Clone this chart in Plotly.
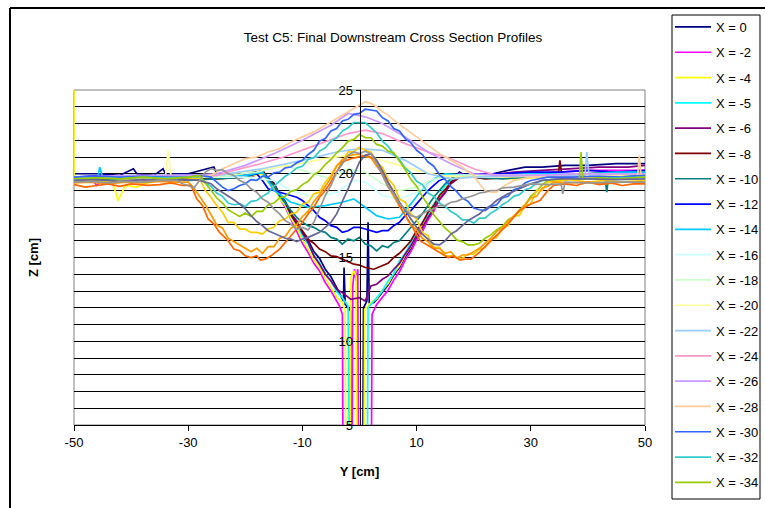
import plotly.graph_objects as go

# Cross-section profiles: (Y position across the channel [cm], bed elevation Z [cm])
pts_x0 = [(-50, 20.0), (-46, 20.0), (-42, 19.9), (-39.6, 20.3), (-39, 20.0), (-36, 19.9), (-34.4, 20.3), (-34, 20.0), (-30, 20.0),
          (-25.5, 20.4), (-25, 20.0), (-21, 19.9), (-18.5, 20.1), (-17, 20.2), (-16, 19.75), (-15, 19.45), (-14, 18.8), (-13, 18.35),
          (-12, 17.6), (-11, 17.15), (-10, 16.5), (-9, 16.05), (-8, 15.35), (-7, 14.95), (-6, 14.3), (-5, 13.85), (-4, 13.2),
          (-3.5, 12.9), (-2.8, 12.4), (-2.7, 14.4), (-2.5, 12.2), (-1.5, 11.8), (-1.3, 4.0), (0.6, 4.0), (0.7, 12.0), (1.3, 12.4),
          (1.5, 17.1), (1.7, 12.3), (2.5, 12.3), (3, 12.5), (4, 12.95), (5, 13.35), (6, 13.95), (7, 14.4), (8, 15.05), (9, 15.5),
          (10, 16.15), (11, 16.6), (12, 17.35), (13, 17.8), (14, 18.45), (15, 18.9), (16, 19.55), (17, 19.9), (17.5, 20.1), (19, 19.8),
          (21, 19.9), (23.4, 20.0), (26, 20.2), (29, 20.4), (32, 20.4), (36, 20.5), (40, 20.5), (45, 20.6), (50, 20.6)]

pts_x2 = [(-50, 19.7), (-47, 19.7), (-46, 19.3), (-45, 19.7), (-41, 19.8), (-36, 19.7), (-31, 19.8), (-27, 19.7), (-23, 19.8), (-19, 19.8),
          (-17, 20.1), (-16, 19.6), (-15, 19.3), (-14, 18.55), (-13, 18.0), (-12, 17.25), (-11, 16.6), (-10, 15.85), (-9, 15.3),
          (-8, 14.65), (-7, 14.2), (-6, 13.5), (-5, 13.0), (-4, 12.4), (-3.5, 12.1), (-3.0, 11.6), (-2.9, 4.0), (-1.3, 4.0), (-1.2, 13.2),
          (-0.9, 14.3), (-0.6, 13.6), (-0.3, 14.3), (-0.2, 4.0), (2.1, 4.0), (2.2, 11.6), (3, 12.2), (4, 12.65), (5, 13.05), (6, 13.65),
          (7, 14.15), (8, 14.85), (9, 15.35), (10, 16.05), (11, 16.55), (12, 17.25), (13, 17.75), (14, 18.45), (15, 18.85), (16, 19.55),
          (17.5, 20.0), (20, 19.8), (25, 19.9), (30, 20.0), (35, 20.1), (40, 20.2), (45, 20.2), (50, 20.2)]

pts_x4 = [(-50, 26.0), (-50, 19.8), (-48, 19.7), (-45, 19.7), (-43.5, 19.8), (-42.3, 18.4), (-41, 19.3), (-39, 19.2), (-36, 19.6),
          (-34, 19.7), (-30, 19.8), (-25, 19.8), (-20, 19.8), (-17, 20.0), (-16, 19.5), (-15, 19.2), (-14, 18.5), (-13, 18.1),
          (-12, 17.35), (-11, 16.8), (-10, 16.05), (-9, 15.5), (-8, 14.85), (-7, 14.4), (-6, 13.75), (-5, 13.2), (-4, 12.65), (-3, 12.3),
          (-2.5, 11.8), (-2.4, 4.0), (-1.6, 4.0), (-1.5, 13.8), (-1.0, 14.2), (-0.6, 13.9), (-0.5, 4.0), (0.8, 4.0), (0.9, 11.9),
          (2, 12.3), (3, 12.55), (4, 13.05), (5, 13.45), (6, 14.05), (7, 14.5), (8, 15.15), (9, 15.65), (10, 16.35), (11, 16.8),
          (12, 17.45), (13, 17.95), (14, 18.65), (15, 19.05), (16, 19.65), (18, 19.9), (22, 19.8), (27, 19.7), (32, 19.8), (37, 19.9),
          (42, 19.8), (47, 19.8), (50, 19.9)]

pts_x5 = [(-50, 19.8), (-45, 19.8), (-40, 19.9), (-35, 19.8), (-30, 19.8), (-25, 19.9), (-20, 19.8), (-17, 20.1), (-16, 19.6),
          (-15, 19.3), (-14, 18.65), (-13, 18.2), (-12, 17.5), (-11, 17.0), (-10, 16.3), (-9, 15.8), (-8, 15.15), (-7, 14.7),
          (-6, 14.05), (-5, 13.6), (-4, 12.95), (-3, 12.6), (-2, 12.1), (-1.8, 4.0), (1.4, 4.0), (1.5, 12.0), (3, 12.6), (4, 13.0),
          (5, 13.6), (6, 14.05), (7, 14.8), (8, 15.25), (9, 15.9), (10, 16.4), (11, 17.1), (12, 17.55), (13, 18.2), (14, 18.7),
          (15, 19.3), (17, 19.9), (20, 19.8), (25, 19.9), (30, 20.0), (35, 19.9), (40, 20.0), (45, 20.1), (50, 20.0)]

pts_x6 = [(-50, 19.7), (-45, 19.8), (-40, 19.7), (-35, 19.8), (-30, 19.9), (-25, 19.8), (-20, 19.9), (-17, 20.1), (-16, 19.6),
          (-15, 19.3), (-14, 18.7), (-13, 18.3), (-12, 17.6), (-11, 17.2), (-10, 16.45), (-9, 15.9), (-8, 15.1), (-7, 14.6),
          (-6, 14.0), (-5, 13.6), (-4, 13.1), (-3, 12.9), (-1.5, 12.5), (0, 12.6), (1, 12.4), (2, 13.3), (3, 13.4), (4, 13.7),
          (5, 13.9), (6, 14.3), (7, 14.65), (8, 15.2), (9, 15.7), (10, 16.3), (11, 16.8), (12, 17.4), (13, 17.9), (14, 18.5),
          (15, 18.9), (16, 19.4), (18, 19.9), (22, 19.9), (27, 20.1), (32, 20.2), (37, 20.3), (42, 20.4), (47, 20.4), (50, 20.5)]

pts_x8 = [(-50, 19.6), (-45, 19.7), (-40, 19.7), (-35, 19.6), (-30, 19.7), (-25, 19.7), (-20, 19.8), (-17, 20.2), (-16, 19.7),
          (-15, 19.4), (-14, 18.75), (-13, 18.3), (-12, 17.55), (-11, 17.0), (-10, 16.6), (-9, 16.1), (-8, 15.85), (-7, 15.5),
          (-6, 15.35), (-5, 15.1), (-4, 15.05), (-3, 14.9), (-2, 14.75), (-1, 14.6), (0, 14.55), (1, 14.4), (2.5, 14.3), (4, 14.5),
          (5, 14.65), (6, 15.0), (7, 15.25), (8, 15.6), (9, 16.0), (10, 16.6), (11, 17.05), (12, 17.7), (13, 18.1), (14, 18.7),
          (15, 19.05), (16, 19.5), (18, 19.9), (22, 19.7), (27, 19.8), (32, 19.9), (34.8, 19.9), (35.1, 20.8), (35.4, 20.0),
          (40, 20.0), (45, 20.1), (50, 20.1)]

pts_x10 = [(-50, 19.7), (-45, 19.6), (-40, 19.7), (-35, 19.7), (-30, 19.6), (-25, 19.7), (-20, 19.8), (-17, 20.1), (-16, 19.7), (-15, 19.3),
           (-14, 18.8), (-13, 18.3), (-12, 17.8), (-11, 17.4), (-10, 17.1), (-9, 16.9), (-8, 16.8), (-7, 16.6), (-6, 16.5), (-5, 16.2),
           (-4, 16.1), (-3, 15.8), (-2, 16.1), (-1, 16.0), (0, 16.2), (1, 15.8), (2, 15.7), (3, 15.4), (4, 15.7), (5, 15.6), (6, 15.9),
           (7, 16.0), (8, 16.4), (9, 16.8), (10, 17.2), (11, 17.6), (12, 18.1), (13, 18.6), (14, 19.0), (15, 19.4), (16, 19.7), (17, 19.9),
           (20, 19.8), (25, 19.7), (30, 19.8), (35, 19.8), (40, 19.9), (43, 19.8), (43.3, 18.9), (43.6, 19.8), (47, 19.9), (50, 19.9)]

pts_x12 = [(-50, 19.8), (-45, 19.9), (-40, 19.8), (-35, 19.8), (-30, 19.9), (-25, 19.8), (-20, 19.9), (-18, 20.0), (-17, 19.6), (-16, 19.1),
           (-15, 19.0), (-14, 18.9), (-13, 18.8), (-12, 18.7), (-11, 18.6), (-10, 18.4), (-9, 18.1), (-8, 17.8), (-7, 17.4), (-6, 17.2),
           (-5, 16.9), (-4, 16.8), (-3, 16.5), (-2, 16.6), (-1, 16.8), (0, 16.8), (1, 16.7), (2, 16.6), (3, 16.5), (4, 16.6), (5, 16.6),
           (6, 16.9), (7, 17.1), (8, 17.5), (9, 17.8), (10, 18.2), (11, 18.6), (12, 19.0), (13, 19.3), (14, 19.6), (16, 19.9), (20, 20.0),
           (25, 20.0), (30, 20.1), (35, 20.1), (40, 20.2), (45, 20.1), (50, 20.2)]

pts_x14 = [(-50, 19.8), (-45.8, 19.8), (-45.5, 20.4), (-45, 19.8), (-40, 19.8), (-35, 19.9), (-30, 19.8), (-25, 19.8), (-20, 19.9),
           (-17, 20.1), (-15, 19.0), (-12, 18.3), (-9, 18.0), (-6, 18.1), (-3, 18.3), (-1, 18.5), (1, 18.0), (3, 17.5), (5, 17.3),
           (7, 17.4), (9, 18.2), (11, 19.1), (13, 19.7), (15, 20.0), (20, 19.9), (25, 19.9), (30, 20.0), (35, 20.0), (40, 20.0),
           (45, 20.1), (50, 20.1)]

pts_x16 = [(-50, 19.8), (-40, 19.8), (-30, 19.8), (-20, 19.8), (-15, 19.6), (-12, 19.0), (-8, 18.6), (-4, 18.9), (-1, 19.6), (1, 19.5),
           (4, 18.7), (7, 18.5), (10, 18.9), (13, 19.6), (16, 19.9), (20, 19.9), (30, 19.9), (40, 20.0), (50, 20.0)]

pts_x18 = [(-50, 19.8), (-40, 19.8), (-30, 19.8), (-25, 19.8), (-18, 20.1), (-13, 20.5), (-9, 20.1), (-5, 19.7), (-2, 20.3), (1, 20.1),
           (4, 19.4), (7, 19.0), (10, 19.2), (13, 19.7), (17, 19.9), (25, 19.9), (35, 19.9), (45, 20.0), (50, 20.0)]

pts_x20 = [(-50, 19.8), (-40, 19.8), (-34, 19.8), (-33.5, 21.4), (-33, 19.8), (-25, 19.9), (-18, 20.2), (-12, 20.5), (-6, 20.9),
           (-2, 21.1), (2, 21.0), (6, 20.6), (10, 20.2), (14, 19.9), (18, 19.8), (25, 19.8), (35, 19.9), (45, 19.9), (50, 20.0)]

pts_x22 = [(-50, 19.8), (-40, 19.8), (-30, 19.9), (-25, 19.9), (-17, 20.3), (-10, 20.8), (-4, 21.3), (0, 21.5), (4, 21.4), (8, 20.8),
           (12, 20.0), (16, 19.7), (20, 19.8), (30, 19.9), (39.5, 19.9), (39.8, 21.3), (40.2, 19.9), (45, 20.0), (50, 20.0)]

pts_x24 = [(-50, 19.8), (-40, 19.8), (-30, 19.8), (-25, 19.9), (-22, 20.2), (-17.4, 20.6), (-13.3, 21.0), (-6.9, 21.8), (-2, 22.4),
           (1, 22.6), (4, 22.4), (8, 21.8), (12, 21.3), (16, 20.9), (20, 20.3), (24, 19.9), (30, 19.9), (40, 20.0), (50, 20.0)]

pts_x26 = [(-50, 19.8), (-40, 19.9), (-30, 19.9), (-25, 20.0), (-20, 20.5), (-15, 21.2), (-10, 22.0), (-5, 22.9), (-2, 23.6), (1, 23.4),
           (4, 23.0), (8, 22.2), (12, 21.3), (16, 20.6), (20, 20.0), (24, 19.9), (30, 19.9), (40, 20.0), (50, 20.0)]

pts_x28 = [(-50, 19.7), (-45, 19.75), (-40, 19.7), (-35, 19.75), (-30, 19.8), (-28, 19.85), (-26, 19.9), (-24, 20.3), (-22, 20.6), (-20, 20.9),
           (-18, 21.0), (-16, 21.3), (-14, 21.5), (-12, 21.9), (-10, 22.2), (-8, 22.5), (-6, 22.9), (-4, 23.3), (-2, 23.7), (-1, 23.9),
           (0, 24.1), (1, 24.3), (2, 24.2), (3, 24.0), (4, 23.7), (5, 23.5), (6, 23.2), (8, 22.7), (10, 22.2), (12, 21.7), (14, 21.2),
           (16, 20.8), (18, 20.4), (19, 20.1), (20, 19.9), (21, 19.4), (22, 19.0), (23, 18.9), (24, 18.9), (25, 19.2), (26, 19.4),
           (27, 19.6), (30, 19.8), (35, 19.8), (40, 19.8), (45, 19.85), (48.7, 19.8), (49, 21.1), (49.3, 19.9), (50, 19.9)]

pts_x30 = [(-50, 19.8), (-46, 19.85), (-42, 19.8), (-38, 19.85), (-34, 19.8), (-30, 19.8), (-28, 19.9), (-26, 19.8), (-25, 19.5), (-24, 19.2),
           (-23, 19.0), (-22, 19.1), (-21, 19.3), (-20, 19.4), (-19, 19.65), (-18, 19.6), (-17, 19.85), (-16, 19.8), (-15, 20.05), (-14, 20.1),
           (-13, 20.35), (-12, 20.4), (-11, 20.65), (-10, 20.8), (-9, 21.15), (-8, 21.4), (-7, 21.95), (-6, 22.1), (-5, 22.55), (-4, 22.7),
           (-3, 23.15), (-2, 23.25), (-1, 23.55), (0, 23.6), (1, 23.85), (2, 23.8), (3, 23.75), (4, 23.35), (5, 23.15), (6, 22.7),
           (7, 22.55), (8, 22.1), (9, 21.85), (10, 21.4), (11, 21.15), (12, 20.7), (13, 20.45), (14, 19.95), (15, 19.65), (16, 19.25),
           (17, 18.95), (18, 18.55), (19, 18.35), (20, 17.95), (21, 17.85), (22, 17.8), (23, 18.05), (24, 18.15), (25, 18.55), (26, 18.65),
           (27, 19.05), (28, 19.15), (29, 19.45), (30, 19.6), (33, 19.8), (37, 19.8), (42, 19.85), (46, 19.8), (50, 19.9)]

pts_x32 = [(-50, 19.7), (-46, 19.75), (-42, 19.7), (-38, 19.8), (-34, 19.75), (-30, 19.8), (-28, 19.8), (-27, 19.45), (-26, 19.25), (-25, 18.85),
           (-24, 18.65), (-23, 18.25), (-22, 18.15), (-21, 18.2), (-20, 18.05), (-19, 18.35), (-18, 18.4), (-17, 18.65), (-16, 18.85),
           (-15, 19.25), (-14, 19.55), (-13, 19.85), (-12, 20.05), (-11, 20.35), (-10, 20.45), (-9, 20.85), (-8, 20.95), (-7, 21.35),
           (-6, 21.55), (-5, 21.95), (-4, 22.15), (-3, 22.55), (-2, 22.75), (-1, 23.05), (0, 23.05), (1, 23.05), (2, 22.75), (3, 22.45),
           (4, 21.95), (5, 21.65), (6, 21.15), (7, 20.85), (8, 20.35), (9, 20.05), (10, 19.55), (11, 19.35), (12, 18.85), (13, 18.65),
           (14, 18.25), (15, 18.05), (16, 17.75), (17, 17.55), (18, 17.25), (19, 17.25), (20, 17.05), (21, 17.35), (22, 17.35), (23, 17.65),
           (24, 17.85), (25, 18.15), (26, 18.35), (27, 18.65), (28, 18.75), (29, 19.05), (30, 19.15), (31, 19.45), (32, 19.6), (35, 19.7),
           (40, 19.7), (45, 19.75), (50, 19.8)]

pts_x34 = [(-50, 19.7), (-46, 19.75), (-42, 19.7), (-38, 19.8), (-34, 19.7), (-30, 19.8), (-28, 19.9), (-27, 19.45), (-26, 19.05), (-25, 18.55),
           (-24, 18.25), (-23, 17.85), (-22, 17.65), (-21, 17.45), (-20, 17.65), (-19, 17.45), (-18, 17.75), (-17, 17.75), (-16, 18.15),
           (-15, 18.25), (-14, 18.55), (-13, 18.65), (-12, 18.95), (-11, 19.05), (-10, 19.35), (-9, 19.55), (-8, 19.95), (-7, 20.15),
           (-6, 20.55), (-5, 20.85), (-4, 21.25), (-3, 21.55), (-2, 21.95), (-1, 22.05), (0, 22.35), (1, 22.15), (2, 22.15), (3, 21.75),
           (4, 21.65), (5, 21.35), (6, 21.25), (7, 20.75), (8, 20.25), (9, 19.65), (10, 19.25), (11, 18.65), (12, 18.15), (13, 17.55),
           (14, 17.15), (15, 16.75), (16, 16.45), (17, 16.05), (18, 15.95), (19, 15.75), (20, 15.75), (21, 15.85), (22, 16.15), (23, 16.35),
           (24, 16.65), (25, 16.85), (26, 17.25), (27, 17.45), (28, 17.85), (29, 18.15), (30, 18.65), (31, 18.95), (32, 19.35), (33, 19.6),
           (36, 19.7), (38.5, 19.7), (38.8, 21.3), (39.1, 19.7), (42, 19.75), (45, 19.7), (50, 19.8)]

pts_x36 = [(-50, 19.55), (-47, 19.62), (-44, 19.5), (-41, 19.6), (-38, 19.52), (-35, 19.65), (-32, 19.58), (-30, 19.7), (-28, 19.72), (-27, 19.0),
           (-26, 18.6), (-25, 18.1), (-24, 17.7), (-23, 17.1), (-22, 17.1), (-21, 16.7), (-20, 16.7), (-19, 16.5), (-18, 16.5), (-17, 16.4),
           (-16, 16.7), (-15, 16.8), (-14, 17.2), (-13, 17.3), (-12, 17.6), (-11, 17.7), (-10, 18.2), (-9, 18.3), (-8, 18.8), (-7, 18.9),
           (-6, 19.5), (-5, 19.9), (-4, 20.5), (-3, 20.7), (-2, 21.3), (-1, 21.3), (0, 21.6), (1, 21.4), (2, 21.3), (3, 20.7), (4, 20.4),
           (5, 19.7), (6, 19.3), (7, 18.5), (8, 18.3), (9, 17.6), (10, 17.3), (11, 16.5), (12, 16.3), (13, 15.6), (14, 15.6), (15, 15.1),
           (16, 15.1), (17, 15.0), (18, 14.95), (19, 15.2), (20, 15.2), (21, 15.5), (22, 15.6), (23, 16.1), (24, 16.2), (25, 16.7),
           (26, 16.9), (27, 17.5), (28, 17.5), (29, 18.1), (30, 18.2), (31, 19.0), (32, 19.0), (33, 19.5), (34, 19.55), (37, 19.65),
           (40, 19.5), (43, 19.6), (46, 19.5), (50, 19.6)]

pts_x38 = [(-50, 19.45), (-47, 19.5), (-44, 19.4), (-41, 19.5), (-38, 19.45), (-35, 19.55), (-32, 19.5), (-30, 19.5), (-29, 19.15), (-28, 18.65),
           (-27, 18.15), (-26, 17.55), (-25, 16.95), (-24, 16.75), (-23, 16.15), (-22, 15.95), (-21, 15.75), (-20, 15.55), (-19, 15.35),
           (-18, 15.55), (-17, 15.25), (-16, 15.65), (-15, 15.65), (-14, 16.15), (-13, 16.25), (-12, 16.75), (-11, 16.95), (-10, 17.45),
           (-9, 17.75), (-8, 18.35), (-7, 18.75), (-6, 19.25), (-5, 19.75), (-4, 20.45), (-3, 20.85), (-2, 21.05), (-1, 21.15), (0, 21.15),
           (1, 21.05), (2, 20.95), (3, 20.45), (4, 20.05), (5, 19.25), (6, 18.65), (7, 18.05), (8, 17.55), (9, 16.95), (10, 16.65),
           (11, 16.15), (12, 15.95), (13, 15.55), (14, 15.55), (15, 15.25), (16, 15.35), (17, 14.95), (18, 15.15), (19, 15.15), (20, 15.35),
           (21, 15.55), (22, 15.85), (23, 16.15), (24, 16.55), (25, 16.75), (26, 17.15), (27, 17.45), (28, 17.75), (29, 18.15), (30, 18.55),
           (31, 18.65), (32, 19.15), (33, 19.25), (34, 19.5), (37, 19.45), (40, 19.5), (43, 19.4), (46, 19.5), (50, 19.5)]

pts_x40 = [(-50, 19.35), (-48, 19.2), (-46, 19.3), (-44, 19.4), (-42, 19.25), (-40, 19.4), (-37, 19.3), (-35, 19.35), (-33, 19.45), (-31, 19.3),
           (-29.5, 19.3), (-28.5, 18.5), (-27.5, 18.1), (-26.5, 17.3), (-25.5, 17.0), (-24.5, 16.5), (-23, 16.0), (-22, 15.5), (-21, 15.4),
           (-20, 15.1), (-19, 15.0), (-18, 15.1), (-17.4, 14.85), (-16.5, 14.9), (-15.5, 15.1), (-14, 15.5), (-13, 15.9), (-11.5, 16.5),
           (-10, 17.1), (-9, 17.6), (-8, 18.0), (-7, 18.6), (-6, 19.0), (-5.2, 19.4), (-4, 20.1), (-3, 20.7), (-1.5, 20.9), (0, 21.0),
           (1.2, 21.1), (2.5, 20.9), (3.6, 20.3), (4.8, 19.6), (6, 18.9), (7, 18.1), (8, 17.5), (9.3, 16.8), (10.6, 16.0), (12, 15.7),
           (13, 15.5), (14, 15.3), (15.5, 15.0), (16.5, 15.1), (17.6, 14.85), (18.5, 14.9), (19.5, 14.9), (21, 15.3), (22.5, 15.8),
           (24.6, 16.5), (26, 17.0), (28, 17.8), (30, 18.2), (31.6, 18.4), (33, 19.0), (34, 19.3), (36, 19.4), (38, 19.3), (40, 19.5),
           (42, 19.35), (44, 19.45), (46, 19.3), (48, 19.4), (50, 19.4)]

pts_x42 = [(-50, 19.6), (-46, 19.65), (-42, 19.55), (-38, 19.65), (-34, 19.6), (-30, 19.65), (-28, 19.6), (-27, 19.5), (-26, 19.4), (-25, 19.1),
           (-24, 18.9), (-23, 18.7), (-22, 18.45), (-21, 18.2), (-20, 17.9), (-19, 17.5), (-18, 17.15), (-17, 16.9), (-16, 16.6),
           (-15, 16.45), (-14, 16.3), (-13, 16.15), (-12, 16.1), (-11, 15.95), (-10, 16.1), (-9, 16.2), (-8, 16.35), (-7, 16.5), (-6, 16.8),
           (-5, 17.1), (-4, 17.6), (-3, 18.3), (-2, 19.1), (-1, 19.9), (0, 20.7), (1, 21.1), (2, 21.2), (3, 20.8), (4, 20.2), (5, 19.5),
           (6, 18.9), (7, 18.3), (8, 17.8), (9, 17.3), (10, 16.8), (11, 16.4), (12, 16.1), (13, 15.8), (14, 15.75), (15, 16.0), (16, 16.4),
           (17, 16.6), (18, 16.9), (19, 17.2), (20, 17.4), (21, 17.6), (22, 17.9), (23, 18.1), (24, 18.4), (25, 18.6), (26, 18.8),
           (28, 19.1), (30, 19.4), (32, 19.6), (35, 19.7), (40, 19.7), (45, 19.65), (50, 19.7)]

pts_x44 = [(-50, 19.5), (-47, 19.55), (-44, 19.45), (-41, 19.55), (-38, 19.5), (-35, 19.6), (-32, 19.6), (-31, 19.4), (-30, 19.3), (-29, 19.15),
           (-28, 19.6), (-27, 20.1), (-26, 20.3), (-25, 20.2), (-24, 20.25), (-23, 20.0), (-22, 19.9), (-21, 19.6), (-20, 19.45), (-19, 19.1),
           (-18, 18.9), (-17, 18.5), (-16, 18.3), (-15, 17.9), (-14, 17.6), (-13, 17.2), (-12, 17.0), (-11, 16.7), (-10, 16.8), (-9, 16.65),
           (-8, 17.1), (-7, 17.9), (-6, 18.7), (-5, 19.3), (-4, 20.1), (-3, 20.6), (-2, 21.1), (-1, 21.3), (0, 21.2), (1, 21.35), (2, 21.2),
           (3, 20.6), (4, 19.9), (5, 19.2), (6, 18.8), (7, 18.2), (8, 17.9), (9, 17.5), (10, 17.4), (11, 17.6), (12, 17.8), (13, 17.9),
           (14, 18.1), (15, 18.1), (16, 18.3), (17, 18.35), (18, 18.5), (19, 18.6), (20, 18.7), (21, 18.85), (22, 18.9), (23, 19.0),
           (24, 19.0), (25, 19.15), (27, 19.2), (30, 19.4), (33, 19.35), (35.3, 19.4), (35.6, 18.8), (36, 19.5), (40, 19.45), (45, 19.5),
           (50, 19.5)]

x_labels = ["X = 0", "X = -2", "X = -4", "X = -5", "X = -6", "X = -8", "X = -10", "X = -12",
            "X = -14", "X = -16", "X = -18", "X = -20", "X = -22", "X = -24", "X = -26",
            "X = -28", "X = -30", "X = -32", "X = -34", "X = -36", "X = -38", "X = -40",
            "X = -42", "X = -44"]
profiles = [pts_x0, pts_x2, pts_x4, pts_x5, pts_x6, pts_x8, pts_x10, pts_x12, pts_x14, pts_x16, pts_x18, pts_x20,
            pts_x22, pts_x24, pts_x26, pts_x28, pts_x30, pts_x32, pts_x34, pts_x36, pts_x38, pts_x40, pts_x42, pts_x44]
line_colors = ["#000080", "#FF00FF", "#FFFF00", "#00FFFF", "#800080", "#800000", "#008080", "#0000FF",
               "#00CCFF", "#CCFFFF", "#CCFFCC", "#FFFF99", "#99CCFF", "#FF99CC", "#CC99FF",
               "#FFCC99", "#3366FF", "#33CCCC", "#99CC00", "#FFCC00", "#FF9900", "#FF6600",
               "#666699", "#969696"]
legend_count = 19  # the legend box only has room for the first 19 profiles

x_ticks = [-50, -30, -10, 10, 30, 50]
x_tick_text = ["-50", "-30", "-10", "10", "30", "50"]
z_ticks = [5, 10, 15, 20, 25]

FONT = "Arial, 'Liberation Sans', sans-serif"

fig = go.Figure()
for i, (lab, pts, col) in enumerate(zip(x_labels, profiles, line_colors)):
    fig.add_trace(go.Scatter(
        x=[p[0] for p in pts], y=[p[1] for p in pts], mode="lines", name=lab,
        line=dict(color=col, width=1.7),
        legendgroup=lab,
        showlegend=i < legend_count,
    ))

W, H = 765, 508
L, R, T, B = 74, 645, 90, 425

def px_to_paper_x(px):
    return (px - L) / (R - L)

def px_to_paper_y(py):
    return (B - py) / (B - T)

fig.update_layout(
    width=W, height=H,
    margin=dict(l=L, r=W - R, t=T, b=H - B),
    paper_bgcolor="white", plot_bgcolor="white",
    font=dict(family=FONT, size=13, color="black"),
    title=dict(text="Test C5: Final Downstream Cross Section Profiles",
               xref="container", yref="container",
               x=393 / W, y=1 - 37 / H, xanchor="center", yanchor="middle",
               font=dict(family=FONT, size=13.5, color="black")),
    xaxis=dict(range=[-50, 50], tickvals=x_ticks, ticktext=x_tick_text,
               ticks="outside", ticklen=5,
               tickcolor="black", showline=True, linecolor="black", linewidth=1,
               showgrid=False, zeroline=False, tickfont=dict(size=13),
               title=dict(text="<b>Y [cm]</b>", standoff=18, font=dict(size=13))),
    yaxis=dict(range=[5, 25], tickvals=z_ticks, anchor="free", position=0.5,
               ticks="outside", ticklen=4, tickcolor="black",
               showline=True, linecolor="black", linewidth=1,
               showgrid=True, gridcolor="black", gridwidth=1, zeroline=False,
               tickfont=dict(size=13),
               minor=dict(dtick=1, tick0=5, showgrid=True, gridcolor="black", gridwidth=1)),
    legend=dict(xref="container", yref="container", x=670 / W, y=1 - 12 / H,
                xanchor="left", yanchor="top", borderwidth=0,
                bgcolor="rgba(0,0,0,0)", tracegroupgap=5.4, maxheight=600,
                itemwidth=36, font=dict(family=FONT, size=13)),
    showlegend=True,
)

# plot-area frame
fig.add_shape(type="rect", xref="paper", yref="paper", x0=0, x1=1, y0=0, y1=1,
              line=dict(color="#808080", width=1), layer="below")
# legend frame
fig.add_shape(type="rect", xref="paper", yref="paper",
              x0=px_to_paper_x(672), x1=px_to_paper_x(760),
              y0=px_to_paper_y(499), y1=px_to_paper_y(15),
              line=dict(color="black", width=1))
# chart-area frame (left and top edges)
fig.add_shape(type="line", xref="paper", yref="paper",
              x0=px_to_paper_x(10), x1=px_to_paper_x(10),
              y0=px_to_paper_y(8), y1=px_to_paper_y(520),
              line=dict(color="black", width=2))
fig.add_shape(type="line", xref="paper", yref="paper",
              x0=px_to_paper_x(10), x1=px_to_paper_x(780),
              y0=px_to_paper_y(8), y1=px_to_paper_y(8),
              line=dict(color="black", width=2))

fig.add_annotation(text="<b>Z [cm]</b>", xref="paper", yref="paper",
                   x=px_to_paper_x(33), y=px_to_paper_y(258), textangle=-90,
                   xanchor="center", yanchor="middle",
                   showarrow=False, font=dict(family=FONT, size=13, color="black"))

fig.write_html("out.html")
